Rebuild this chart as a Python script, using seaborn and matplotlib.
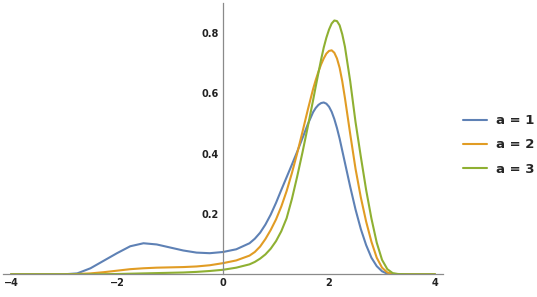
import numpy as np
import pandas as pd
import matplotlib
matplotlib.use("Agg")
import matplotlib.pyplot as plt
from matplotlib.ticker import MultipleLocator
from matplotlib.lines import Line2D
import seaborn as sns

# ---- 数据----
x_vals = [-4.0, -3.5, -3.0, -2.75, -2.5, -2.25, -2.0, -1.75, -1.5, -1.25, -1.0,
          -0.75, -0.5, -0.25, 0.0, 0.25, 0.5, 0.6, 0.7, 0.8, 0.9, 1.0, 1.1, 1.2,
          1.3, 1.4, 1.5, 1.6, 1.7, 1.75, 1.8, 1.85, 1.9, 1.95, 2.0, 2.05, 2.1, 2.15,
          2.2, 2.25, 2.3, 2.4, 2.5, 2.6, 2.7, 2.8, 2.9, 3.0, 3.1, 3.2, 3.3, 3.5, 4.0]

y_a1 = [0, 0, 0, 0.003, 0.02, 0.045, 0.07, 0.093, 0.103, 0.099, 0.089,
        0.079, 0.072, 0.070, 0.074, 0.083, 0.103, 0.118, 0.138, 0.165, 0.198, 0.237, 0.28, 0.322,
        0.364, 0.407, 0.452, 0.498, 0.538, 0.552, 0.562, 0.568, 0.570, 0.566, 0.556, 0.539, 0.515, 0.485,
        0.45, 0.41, 0.37, 0.29, 0.215, 0.15, 0.097, 0.055, 0.027, 0.01, 0.002, 0, 0, 0, 0]

y_a2 = [0, 0, 0, 0.001, 0.003, 0.007, 0.012, 0.017, 0.020, 0.022, 0.023,
        0.024, 0.026, 0.030, 0.037, 0.046, 0.062, 0.074, 0.092, 0.117, 0.147, 0.182, 0.225, 0.276,
        0.336, 0.402, 0.473, 0.546, 0.615, 0.645, 0.672, 0.696, 0.716, 0.732, 0.741, 0.743, 0.735, 0.716,
        0.685, 0.64, 0.585, 0.465, 0.35, 0.255, 0.175, 0.108, 0.055, 0.022, 0.006, 0.001, 0, 0, 0]

y_a3 = [0, 0, 0, 0, 0, 0.0005, 0.001, 0.002, 0.003, 0.004, 0.005,
        0.006, 0.008, 0.011, 0.015, 0.022, 0.033, 0.041, 0.052, 0.066, 0.085, 0.11, 0.143, 0.186,
        0.25, 0.325, 0.405, 0.49, 0.578, 0.624, 0.668, 0.712, 0.752, 0.785, 0.812, 0.832, 0.842, 0.840,
        0.826, 0.796, 0.755, 0.64, 0.505, 0.39, 0.28, 0.185, 0.105, 0.048, 0.017, 0.004, 0.001, 0, 0]

series_labels = ["a = 1", "a = 2", "a = 3"]
colors = ["#5E81B5", "#E19C24", "#8FB032"]

df = pd.concat([
    pd.DataFrame({"x": x_vals, "y": ys, "a": lab})
    for ys, lab in zip([y_a1, y_a2, y_a3], series_labels)
], ignore_index=True)

sns.set_style("white")

fig = plt.figure(figsize=(5.37, 2.97), dpi=100)
ax = fig.add_axes([3 / 537, (297 - 274.3) / 297, 440 / 537, 271.3 / 297])

sns.lineplot(data=df, x="x", y="y", hue="a", palette=colors, linewidth=1.5,
             sort=False, legend=False, ax=ax, solid_joinstyle="round")

ax.set_xlim(-4.15, 4.15)
ax.set_ylim(0, 0.9)
ax.set_xlabel("")
ax.set_ylabel("")

# Mathematica 风格坐标轴：交于原点
for side in ["top", "right"]:
    ax.spines[side].set_visible(False)
ax.spines["left"].set_position(("data", 0))
ax.spines["bottom"].set_position(("data", 0))
for side in ["left", "bottom"]:
    ax.spines[side].set_color("#8a8a8a")
    ax.spines[side].set_linewidth(0.9)

ax.xaxis.set_major_locator(MultipleLocator(2))
ax.xaxis.set_minor_locator(MultipleLocator(0.5))
ax.yaxis.set_minor_locator(MultipleLocator(0.05))
ax.set_yticks([0.2, 0.4, 0.6, 0.8])
ax.tick_params(which="both", direction="in", color="#8a8a8a", width=0.8)
ax.tick_params(which="major", length=4, labelsize=7, pad=3)
ax.tick_params(which="minor", length=2)
for lab in ax.get_xticklabels() + ax.get_yticklabels():
    lab.set_fontweight("bold")
    lab.set_color("#222222")

handles = [Line2D([0], [0], color=c, lw=1.5) for c in colors]
fig.legend(handles, series_labels, loc="center left", bbox_to_anchor=(463 / 537, 1 - 145 / 297),
           frameon=False, borderpad=0, borderaxespad=0, handlelength=1.8, handletextpad=0.7,
           labelspacing=0.85, prop={"size": 9.5, "weight": "bold"})

fig.savefig("out.png", dpi=100)
